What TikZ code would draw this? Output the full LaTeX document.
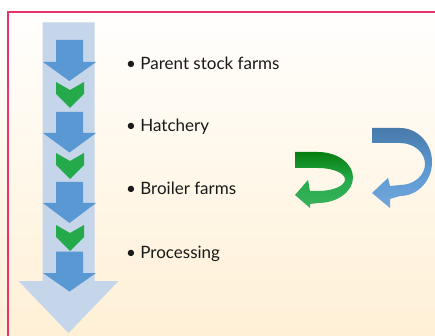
\documentclass[tikz,border=0pt]{standalone}
\usepackage{fontspec}
\setmainfont{Lato}
\begin{document}
\definecolor{frame}{HTML}{E8336E}
\definecolor{paleblue}{HTML}{C5D5EA}
\definecolor{stepblue}{HTML}{5A98D4}
\definecolor{stepgreen}{HTML}{25AA4B}
\definecolor{bgtop}{HTML}{FFFFFF}
\definecolor{bgbottom}{HTML}{FFF0D6}
\begin{tikzpicture}[x=1pt,y=-1pt,
  stagearrow/.style={fill=stepblue,draw=none},
  chevronmark/.style={fill=stepgreen,draw=none},
  stagelabel/.style={anchor=base west,inner sep=0pt,font=\fontsize{17}{20}\selectfont,text=black!90}]
\useasboundingbox (0,0) rectangle (435,336);
% background wash and frame
\shade[top color=bgtop,bottom color=bgbottom] (0,0) rectangle (435,336);
\draw[frame,line width=1.5pt] (8,336) -- (8,12) -- (435,12);

% large pale flow arrow
\fill[paleblue] (42.5,22.5) -- (94.5,22.5) -- (94.5,281) -- (118.5,281)
  -- (68.5,333) -- (18.5,281) -- (42.5,281) -- cycle;

% blue stage arrows: top of shaft, base of head, tip
\foreach \t/\b/\p in {40/62/81, 112/133/152.5, 182/203/223, 251.5/273/291.5}{
  \fill[stagearrow] (56,\t) -- (83,\t) -- (83,\b) -- (96,\b) -- (69.5,\p)
    -- (43,\b) -- (56,\b) -- cycle;
}
% green chevrons between stages
\foreach \t in {82,153,225}{
  \fill[chevronmark] (56,\t) -- (70,\t+8) -- (84,\t) -- (84,\t+12)
    -- (70,\t+26) -- (56,\t+12) -- cycle;
}

% stage labels
\node[stagelabel] (parent) at (126,69.5) {• Parent stock farms};
\node[stagelabel] (hatch) at (126,132) {• Hatchery};
\node[stagelabel] (broiler) at (126,195) {• Broiler farms};
\node[stagelabel] (proc) at (126,258) {• Processing};

% green curved return arrow
\shade[top color=green!45!black!80!stepgreen,bottom color=stepgreen!90!white,
       middle color=stepgreen]
  (295,152) -- (318,152) arc[start angle=-90,end angle=90,x radius=35,y radius=25.5]
  -- (310,204) -- (310,208) -- (295,195) -- (308,180) -- (310,191) -- (318,191)
  arc[start angle=90,end angle=-90,x radius=27,y radius=11.5]
  -- (295,168) -- cycle;

% blue curved return arrow
\shade[top color=stepblue!80!black,bottom color=stepblue!85!white,
       middle color=stepblue]
  (372,128) -- (400,128) arc[start angle=-90,end angle=90,x radius=32,y radius=34]
  -- (390,199) -- (390,208) -- (372,193) -- (388,178) -- (390,186) -- (400,185)
  arc[start angle=90,end angle=-90,x radius=25,y radius=21]
  -- (372,143) -- cycle;
\end{tikzpicture}
\end{document}
